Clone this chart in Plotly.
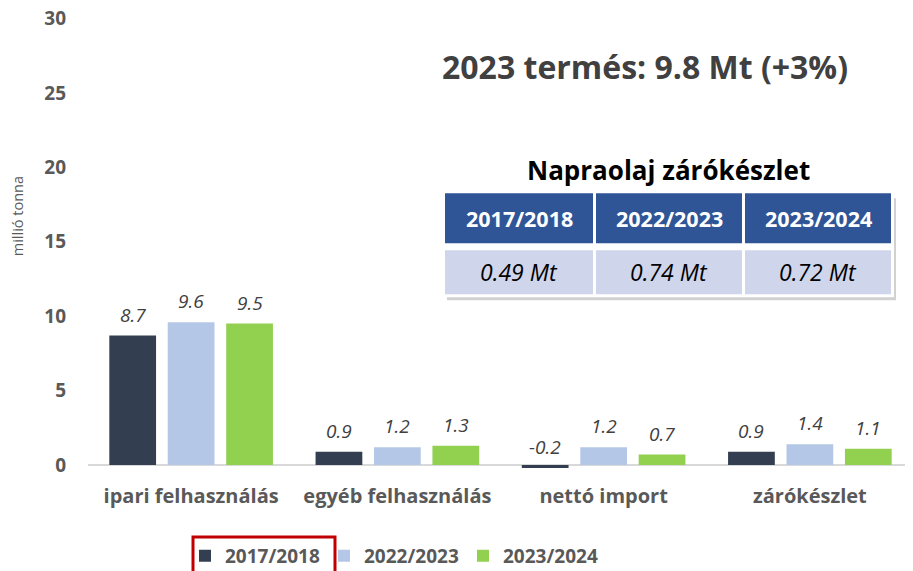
import plotly.graph_objects as go

categories = ["ipari felhasználás", "egyéb felhasználás", "nettó import", "zárókészlet"]
series_names = ["2017/2018", "2022/2023", "2023/2024"]
v_2017_2018 = [8.7, 0.9, -0.2, 0.9]
v_2022_2023 = [9.6, 1.2, 1.2, 1.4]
v_2023_2024 = [9.5, 1.3, 0.7, 1.1]
series_values = [v_2017_2018, v_2022_2023, v_2023_2024]
colors = ["#333F50", "#B4C7E7", "#92D050"]

y_ticks = [0, 5, 10, 15, 20, 25, 30]
title_text = "2023 termés: 9.8 Mt (+3%)"
table_title = "Napraolaj zárókészlet"
table_headers = ["2017/2018", "2022/2023", "2023/2024"]
table_values = ["0.49 Mt", "0.74 Mt", "0.72 Mt"]

FONT = "Open Sans"
OFF = 8  # page body margin
W, H = 913 - OFF, 571 - OFF
L, R, T, B = 88 - OFF, 0, 16.5 - OFF, 103
PW, PH = W - L - R, H - T - B
Y0, Y1 = -0.2, 30.1

def px(x):
    return (x - OFF - L) / PW

def py(y):
    return (H - B - (y - OFF)) / PH

fig = go.Figure()
for name, vals, col in zip(series_names, series_values, colors):
    fig.add_trace(go.Bar(x=categories, y=vals, name=name, marker=dict(color=col, line=dict(width=0))))

annotations = []
pitch = 58.5
for si, vals in enumerate(series_values):
    for ci, v in enumerate(vals):
        annotations.append(dict(
            x=categories[ci], y=v, xref="x", yref="y", text=f"<i>{v}</i>",
            showarrow=False, xshift=(si - 1) * pitch, yshift=6, yanchor="bottom", xanchor="center",
            font=dict(family=FONT, size=19, color="#404040")))

annotations.append(dict(x=px(645), y=py(66), xref="paper", yref="paper", text=f"<b>{title_text}</b>",
                        xanchor="center", yanchor="middle",
                        showarrow=False, font=dict(family=FONT, size=32, color="#404040")))
annotations.append(dict(x=px(668), y=py(170), xref="paper", yref="paper", text=f"<b>{table_title}</b>",
                        xanchor="center", yanchor="middle",
                        showarrow=False, font=dict(family=FONT, size=26, color="#000000")))
annotations.append(dict(x=px(17), y=py(216), xref="paper", yref="paper", text="millió tonna", textangle=-90,
                        xanchor="center", yanchor="middle",
                        showarrow=False, font=dict(family=FONT, size=14.5, color="#595959")))

shapes = []
# table shadow and background
shapes.append(dict(type="rect", xref="paper", yref="paper", x0=px(447), x1=px(896), y0=py(300), y1=py(198),
                   fillcolor="rgba(0,0,0,0.18)", line=dict(width=0), layer="above"))
shapes.append(dict(type="rect", xref="paper", yref="paper", x0=px(442), x1=px(894), y0=py(297), y1=py(190),
                   fillcolor="white", line=dict(width=0), layer="above"))
col_x = [(445, 593), (596, 742), (745, 891)]
for (x0, x1), h, v in zip(col_x, table_headers, table_values):
    shapes.append(dict(type="rect", xref="paper", yref="paper", x0=px(x0), x1=px(x1), y0=py(243), y1=py(193),
                       fillcolor="#2F5597", line=dict(width=0), layer="above"))
    shapes.append(dict(type="rect", xref="paper", yref="paper", x0=px(x0), x1=px(x1), y0=py(294), y1=py(250),
                       fillcolor="#CFD5EA", line=dict(width=0), layer="above"))
    annotations.append(dict(x=px((x0 + x1) / 2), y=py(218), xref="paper", yref="paper", text=f"<b>{h}</b>",
                            xanchor="center", yanchor="middle",
                            showarrow=False, font=dict(family=FONT, size=21.5, color="white")))
    annotations.append(dict(x=px((x0 + x1) / 2), y=py(272), xref="paper", yref="paper", text=f"<i>{v}</i>",
                            xanchor="center", yanchor="middle",
                            showarrow=False, font=dict(family=FONT, size=23, color="#000000")))

# red highlight around first legend item
shapes.append(dict(type="rect", xref="paper", yref="paper", x0=px(193), x1=px(335), y0=py(585), y1=py(537),
                   fillcolor="rgba(0,0,0,0)", line=dict(color="#C00000", width=3)))

fig.update_layout(
    width=W, height=H,
    margin=dict(l=L, r=R, t=T, b=B, autoexpand=False),
    paper_bgcolor="white", plot_bgcolor="white",
    barmode="group", bargap=0.15, bargroupgap=0.2,
    font=dict(family=FONT, color="#595959"),
    showlegend=True,
    legend=dict(orientation="h", x=px(185), xanchor="left", y=py(556), yanchor="middle",
                font=dict(family=FONT, size=19, color="#595959", weight="bold"),
                entrywidth=94, entrywidthmode="pixels",
                traceorder="normal", bgcolor="rgba(0,0,0,0)"),
    annotations=annotations,
    shapes=shapes,
)
fig.update_xaxes(showgrid=False, showline=False, ticks="", ticklabelstandoff=14, automargin=False,
                 tickfont=dict(family=FONT, size=20, color="#595959", weight="bold"))
fig.update_yaxes(range=[Y0, Y1], tickvals=y_ticks, showgrid=False, zeroline=True, zerolinecolor="#D9D9D9",
                 zerolinewidth=2, showline=False, ticklabelstandoff=21, automargin=False,
                 ticklabeloverflow="allow",
                 tickfont=dict(family=FONT, size=19, color="#595959", weight="bold"))

fig.write_html("out.html")
